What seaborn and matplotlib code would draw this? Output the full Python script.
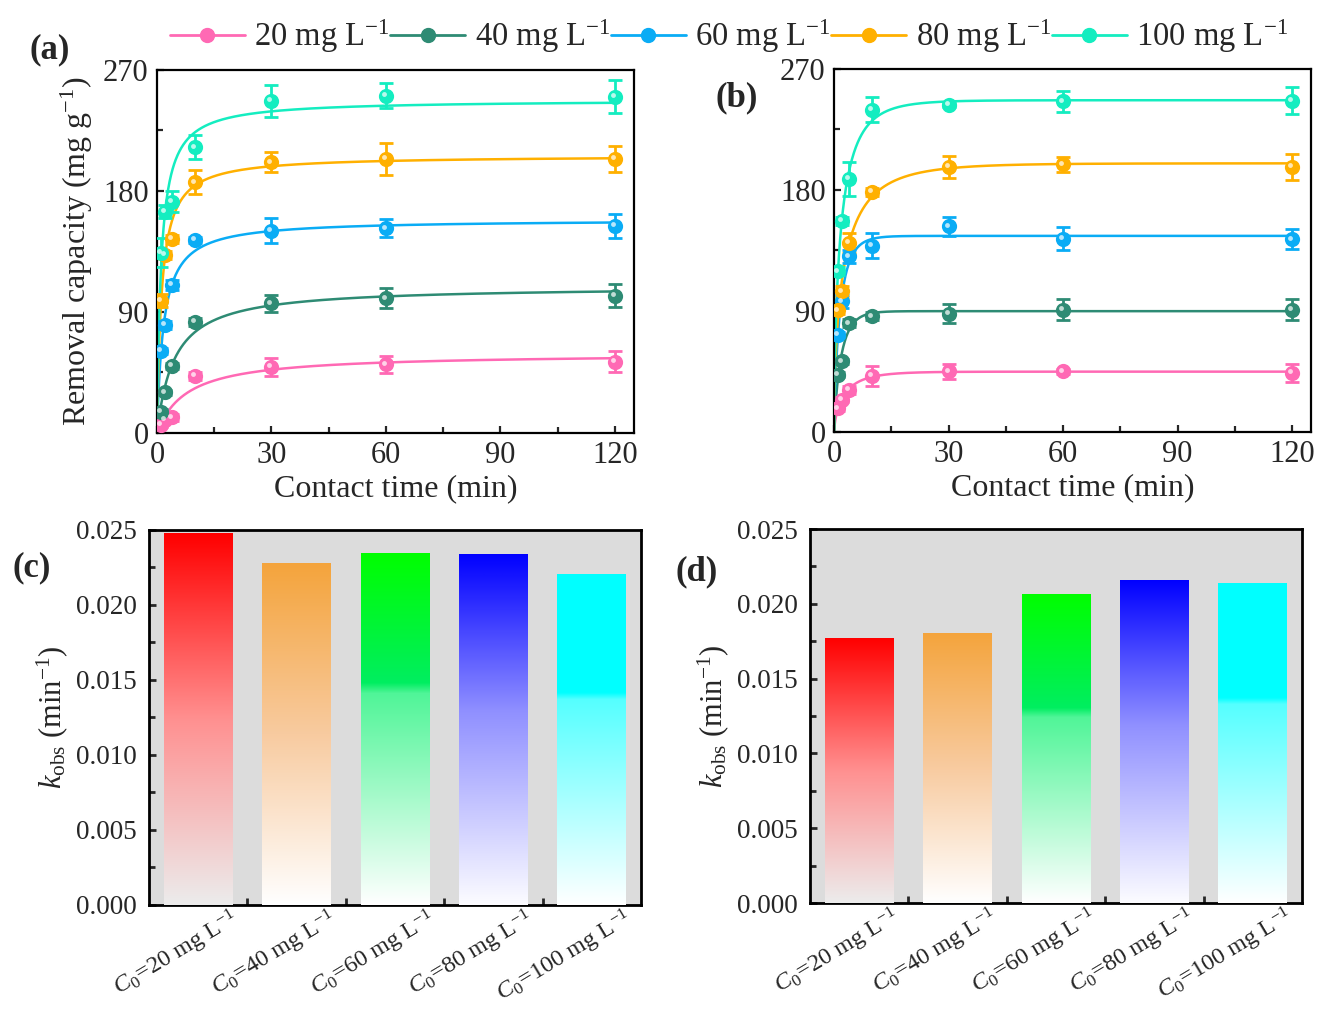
import numpy as np
import pandas as pd
import seaborn as sns
import matplotlib
matplotlib.use("Agg")
import matplotlib.pyplot as plt
import matplotlib.transforms as mtransforms
from matplotlib.lines import Line2D
from matplotlib.colors import to_rgb
from matplotlib.ticker import MultipleLocator, FormatStrFormatter, FixedLocator

# ---------------- data ----------------
time_min = [1, 2, 4, 10, 30, 60, 120]
series_names = ["20 mg L$^{-1}$", "40 mg L$^{-1}$", "60 mg L$^{-1}$",
                "80 mg L$^{-1}$", "100 mg L$^{-1}$"]

a_20 = [6.0, 9.7, 11.7, 42.4, 49.4, 51.1, 53.1]
a_40 = [15.9, 30.2, 49.9, 82.8, 96.5, 100.2, 102.2]
a_60 = [61.0, 80.4, 110.1, 143.6, 150.5, 152.3, 154.0]
a_80 = [98.5, 132.4, 144.3, 186.5, 201.4, 203.9, 204.1]
a_100 = [134.1, 164.7, 172.1, 212.6, 247.0, 250.7, 250.2]
ea_20 = [1.5, 2.0, 2.5, 3.0, 6.7, 6.2, 7.6]
ea_40 = [2.0, 2.0, 2.5, 3.0, 6.4, 7.6, 8.7]
ea_60 = [2.0, 3.0, 4.0, 2.5, 9.3, 6.8, 9.0]
ea_80 = [5.0, 3.0, 3.0, 9.0, 7.4, 12.0, 9.7]
ea_100 = [11.0, 5.0, 8.0, 9.0, 12.2, 9.3, 12.0]

b_20 = [17.8, 24.0, 31.5, 41.9, 45.1, 45.1, 43.9]
b_40 = [42.6, 52.5, 81.0, 86.0, 88.0, 91.0, 91.0]
b_60 = [72.4, 97.2, 130.6, 138.6, 152.9, 143.8, 143.5]
b_80 = [90.5, 104.6, 140.6, 178.5, 197.1, 199.3, 197.3]
b_100 = [119.5, 157.2, 188.2, 239.7, 243.4, 245.9, 246.4]
eb_20 = [2.0, 2.0, 3.0, 7.4, 5.6, 2.0, 6.8]
eb_40 = [2.0, 2.0, 3.0, 3.0, 7.3, 7.7, 7.8]
eb_60 = [2.0, 5.0, 5.0, 9.4, 6.8, 8.8, 7.7]
eb_80 = [3.0, 4.0, 7.4, 3.0, 8.4, 5.6, 9.8]
eb_100 = [3.0, 3.0, 12.4, 9.5, 2.0, 7.8, 10.2]

bar_labels = [r"$C_0$=20 mg L$^{-1}$", r"$C_0$=40 mg L$^{-1}$", r"$C_0$=60 mg L$^{-1}$",
              r"$C_0$=80 mg L$^{-1}$", r"$C_0$=100 mg L$^{-1}$"]
k_c = [0.02478, 0.02278, 0.02347, 0.02340, 0.02207]
k_d = [0.01770, 0.01808, 0.02069, 0.02161, 0.02141]

# ---------------- style ----------------
line_colors = ["#FF69B4", "#2E8B74", "#0AACF5", "#FFB000", "#14EDC0"]
bar_colors = ["#FF0000", "#F4A43C", "#00FF00", "#0000FF", "#00FFFF"]
grad_stops = [
    [(0.0, "#FF0000"), (0.5, "#FF9090"), (1.0, "#ECECEC")],
    [(0.0, "#F4A43C"), (0.5, "#F8CBA0"), (1.0, "#FFFFFF")],
    [(0.0, "#00FF00"), (0.37, "#00EE60"), (0.40, "#50F598"), (1.0, "#FFFFFF")],
    [(0.0, "#0000FF"), (0.45, "#9090FF"), (1.0, "#FCFCFF")],
    [(0.0, "#00FFFF"), (0.36, "#00FFFF"), (0.38, "#55FFFF"), (1.0, "#FFFFFF")],
]

sns.set_theme(style="ticks")
plt.rcParams["font.family"] = ["Liberation Serif", "DejaVu Serif"]
plt.rcParams["mathtext.fontset"] = "custom"
plt.rcParams["mathtext.rm"] = "Liberation Serif"
plt.rcParams["mathtext.it"] = "Liberation Serif:italic"
plt.rcParams["mathtext.bf"] = "Liberation Serif:bold"
plt.rcParams["axes.unicode_minus"] = True

TICK_FS_AB = 22
TICK_FS_CD = 19.5
LABEL_FS = 23

fig = plt.figure(figsize=(13.17, 10.10), dpi=100)
ax_a = fig.add_axes([0.1192, 0.5713, 0.3622, 0.3594])
ax_b = fig.add_axes([0.6333, 0.5723, 0.3622, 0.3594])
ax_c = fig.add_axes([0.1131, 0.1040, 0.3736, 0.3713])
ax_d = fig.add_axes([0.6150, 0.1059, 0.3736, 0.3703])


def pso_curve(t, q, tt):
    """Least-squares pseudo-second-order fit q = qe*K t/(1+K t)."""
    t = np.asarray(t, float)
    q = np.asarray(q, float)
    Ks = np.logspace(-3, 2, 3000)
    f = Ks[:, None] * t / (1 + Ks[:, None] * t)
    qe = (f * q).sum(-1) / (f * f).sum(-1)
    res = ((qe[:, None] * f - q) ** 2).sum(-1)
    i = np.argmin(res)
    return qe[i] * Ks[i] * tt / (1 + Ks[i] * tt)


def avrami_curve(t, q, tt):
    """Least-squares fit q = qe*(1-exp(-(k t)^n)) on a parameter grid."""
    t = np.asarray(t, float)
    q = np.asarray(q, float)
    ks = np.logspace(-3, 1, 260)
    ns = np.linspace(0.25, 1.6, 110)
    K, N = np.meshgrid(ks, ns, indexing="ij")
    f = 1 - np.exp(-(K[..., None] * t) ** N[..., None])
    qe = (f * q).sum(-1) / (f * f).sum(-1)
    res = ((qe[..., None] * f - q) ** 2).sum(-1)
    i, j = np.unravel_index(np.argmin(res), res.shape)
    return qe[i, j] * (1 - np.exp(-(ks[i] * tt) ** ns[j]))


hl_offset = mtransforms.ScaledTranslation(-2.0 / 100, 1.5 / 100, fig.dpi_scale_trans)


def kinetics_panel(ax, ys, es, model):
    tt = np.linspace(0, 120, 1200)
    for y, e, c in zip(ys, es, line_colors):
        qq = model(time_min, y, tt)
        sns.lineplot(x=tt, y=qq, ax=ax, color=c, lw=1.8, zorder=2)
        ax.errorbar(time_min, y, yerr=e, fmt="none", ecolor=c, elinewidth=2,
                    capsize=5, capthick=2, zorder=3)
        df = pd.DataFrame({"t": time_min, "q": y})
        sns.scatterplot(data=df, x="t", y="q", ax=ax, color=c, s=120,
                        edgecolor=c, linewidth=0, zorder=4)
        ax.plot(time_min, y, "o", ms=3.5, color="white", alpha=0.7, mec="none",
                transform=ax.transData + hl_offset, zorder=5)
    ax.set_xlim(0, 125)
    ax.set_ylim(0, 270)
    ax.xaxis.set_major_locator(FixedLocator([0, 30, 60, 90, 120]))
    ax.xaxis.set_minor_locator(FixedLocator([15, 45, 75, 105]))
    ax.yaxis.set_major_locator(FixedLocator([0, 90, 180, 270]))
    ax.yaxis.set_minor_locator(FixedLocator([45, 135, 225]))
    ax.tick_params(which="both", direction="in", width=1.6, labelsize=TICK_FS_AB,
                   top=False, right=False)
    ax.tick_params(which="major", length=5, pad=6)
    ax.tick_params(which="minor", length=4)
    for s in ax.spines.values():
        s.set_linewidth(1.6)
        s.set_color("black")
    ax.set_xlabel("Contact time (min)", fontsize=LABEL_FS, labelpad=3)
    ax.set_ylabel("")


kinetics_panel(ax_a, [a_20, a_40, a_60, a_80, a_100],
               [ea_20, ea_40, ea_60, ea_80, ea_100], pso_curve)
kinetics_panel(ax_b, [b_20, b_40, b_60, b_80, b_100],
               [eb_20, eb_40, eb_60, eb_80, eb_100], avrami_curve)
ax_a.set_ylabel("Removal capacity (mg g$^{-1}$)", fontsize=LABEL_FS, labelpad=6)


def gradient_image(stops, n=256):
    pos = np.array([p for p, _ in stops])
    cols = np.array([to_rgb(c) for _, c in stops])
    f = np.linspace(0, 1, n)
    img = np.stack([np.interp(f, pos, cols[:, i]) for i in range(3)], axis=1)
    return img[:, None, :]


def bar_panel(ax, vals):
    df = pd.DataFrame({"cond": bar_labels, "k": vals})
    sns.barplot(data=df, x="cond", y="k", hue="cond", palette=bar_colors,
                legend=False, width=0.7, saturation=1, linewidth=0, ax=ax, zorder=2)
    for patch, stops in zip(ax.patches, grad_stops):
        x0, w, h = patch.get_x(), patch.get_width(), patch.get_height()
        im = ax.imshow(gradient_image(stops), extent=[x0, x0 + w, 0, h],
                       aspect="auto", origin="upper", zorder=3, interpolation="bilinear")
        im.set_clip_path(patch)
    ax.set_facecolor("#DCDCDC")
    ax.set_xlim(-0.5, 4.5)
    ax.set_ylim(0, 0.025)
    ax.yaxis.set_major_locator(MultipleLocator(0.005))
    ax.yaxis.set_minor_locator(MultipleLocator(0.0025))
    ax.yaxis.set_major_formatter(FormatStrFormatter("%.3f"))
    ax.set_xticks(range(len(bar_labels)))
    ax.set_xticklabels(bar_labels)
    ax.xaxis.set_minor_locator(FixedLocator([0.5, 1.5, 2.5, 3.5]))
    ax.tick_params(axis="x", which="major", length=0, pad=0)
    ax.tick_params(axis="x", which="minor", length=5, width=2, direction="in")
    ax.tick_params(axis="y", which="both", direction="in", width=2)
    ax.tick_params(axis="y", which="major", length=5, pad=9)
    ax.tick_params(axis="y", which="minor", length=4)
    ax.tick_params(labelsize=TICK_FS_CD, top=False, right=False)
    shift = mtransforms.ScaledTranslation(0.31, 0, fig.dpi_scale_trans)
    for lab in ax.get_xticklabels():
        lab.set_rotation(31)
        lab.set_ha("right")
        lab.set_va("top")
        lab.set_rotation_mode("anchor")
        lab.set_fontsize(17.6)
        lab.set_transform(lab.get_transform() + shift)
    for s in ax.spines.values():
        s.set_linewidth(2.0)
        s.set_color("black")
    ax.set_xlabel("")
    ax.set_ylabel(r"$k_{\mathrm{obs}}$ (min$^{-1}$)", fontsize=LABEL_FS - 1, labelpad=4)


bar_panel(ax_c, k_c)
bar_panel(ax_d, k_d)

# panel letters
for txt, (x, y) in zip(["(a)", "(b)", "(c)", "(d)"],
                       [(50, 50), (737, 98), (32, 568), (697, 572)]):
    fig.text(x / 1317, 1 - y / 1010, txt, fontsize=25, fontweight="bold",
             ha="center", va="center")

# legend
handles = [Line2D([0], [0], color=c, lw=2, marker="o", ms=10, mec=c)
           for c in line_colors]
fig.legend(handles, series_names, loc="center", bbox_to_anchor=(0.5535, 0.964),
           ncol=5, frameon=False, fontsize=23.5, handlelength=2.3, handletextpad=0.3,
           columnspacing=0.0, borderaxespad=0)

fig.savefig("out.png", dpi=100)
